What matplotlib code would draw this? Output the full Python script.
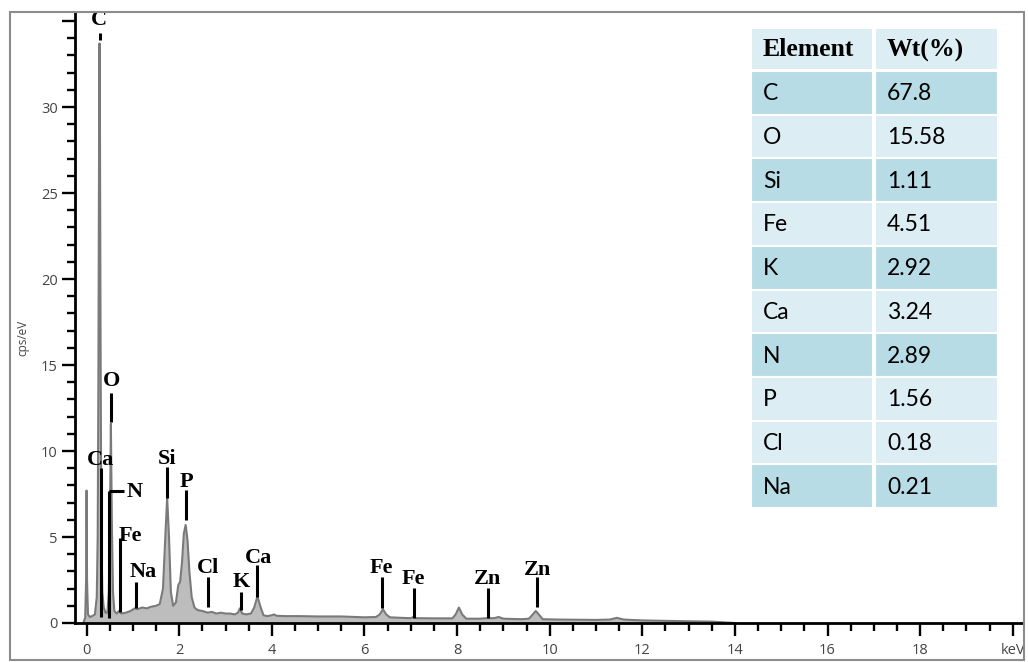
import matplotlib
matplotlib.use("Agg")
import matplotlib.pyplot as plt
from matplotlib.patches import Rectangle
from matplotlib.ticker import FixedLocator, MultipleLocator

# ---------------- EDS spectrum (energy in keV, intensity in cps/eV) ----------------
energy_kev = [
    -0.07, -0.03, -0.01, 0.0, 0.01, 0.03, 0.07, 0.12, 0.18, 0.22, 0.24, 0.255,
    0.27, 0.28, 0.29, 0.305, 0.32, 0.34, 0.37, 0.41, 0.45, 0.48, 0.505, 0.525,
    0.545, 0.57, 0.60, 0.65, 0.70, 0.75, 0.85, 0.95, 1.04, 1.10, 1.20, 1.30,
    1.40, 1.50, 1.58, 1.65, 1.70, 1.74, 1.78, 1.82, 1.87, 1.93, 1.98, 2.02,
    2.06, 2.10, 2.14, 2.18, 2.22, 2.27, 2.33, 2.40, 2.50, 2.62, 2.70, 2.80,
    2.90, 3.00, 3.10, 3.20, 3.27, 3.31, 3.36, 3.45, 3.55, 3.62, 3.69, 3.76,
    3.82, 3.90, 4.00, 4.05, 4.10, 4.30, 4.60, 5.00, 5.50, 6.00, 6.25, 6.33,
    6.40, 6.47, 6.55, 6.80, 7.00, 7.06, 7.12, 7.50, 7.90, 7.97, 8.04, 8.11,
    8.20, 8.50, 8.63, 8.80, 8.90, 9.00, 9.40, 9.55, 9.62, 9.70, 9.78, 9.85,
    10.20, 11.00, 11.30, 11.45, 11.60, 12.00, 13.00, 13.50, 14.00,
]
intensity_cps = [
    0.0, 0.3, 2.5, 7.7, 2.5, 0.5, 0.35, 0.4, 0.5, 1.5, 5.0, 14.0,
    28.0, 33.7, 28.0, 14.0, 5.0, 1.8, 0.9, 0.6, 0.6, 1.8, 6.0, 11.6,
    6.0, 1.8, 0.7, 0.55, 0.7, 0.55, 0.6, 0.7, 0.85, 0.8, 0.9, 0.85,
    0.95, 1.0, 1.1, 2.0, 5.0, 7.3, 5.0, 1.8, 1.0, 1.2, 2.2, 2.4,
    3.5, 5.2, 5.7, 4.8, 3.0, 1.5, 0.9, 0.75, 0.7, 0.6, 0.65, 0.55,
    0.6, 0.55, 0.55, 0.5, 0.6, 0.85, 0.55, 0.5, 0.55, 0.9, 1.55, 0.9,
    0.45, 0.4, 0.45, 0.5, 0.42, 0.4, 0.4, 0.38, 0.38, 0.33, 0.35, 0.5,
    0.8, 0.5, 0.33, 0.3, 0.28, 0.35, 0.28, 0.27, 0.27, 0.5, 0.9, 0.5,
    0.25, 0.25, 0.28, 0.28, 0.35, 0.25, 0.22, 0.25, 0.45, 0.7, 0.45, 0.22,
    0.2, 0.18, 0.2, 0.3, 0.2, 0.15, 0.1, 0.08, 0.0,
]

# ---------------- peak identification ----------------
peak_labels = ["C", "O", "Ca", "N", "Fe", "Na", "Si", "P", "Cl", "K", "Ca",
               "Fe", "Fe", "Zn", "Zn"]
peak_energy = [0.28, 0.53, 0.32, 0.475, 0.72, 1.07, 1.74, 2.14, 2.63, 3.34,
               3.69, 6.39, 7.06, 8.66, 9.72]

# marker line extent (bottom, top) and label anchor (x, y), in data units
marker_span = [(33.9, 34.3), (11.7, 13.4), (0.35, 9.0), (0.3, 7.7),
               (0.64, 4.94), (0.87, 2.38), (7.27, 9.07), (6.0, 7.73),
               (0.93, 2.67), (0.75, 1.8), (1.5, 3.37), (0.87, 2.67),
               (0.29, 2.03), (0.29, 2.03), (0.93, 2.67)]
label_anchor = [(0.27, 35.05), (0.53, 14.05), (0.29, 9.5), (1.04, 7.62),
                (0.95, 5.06), (1.22, 2.95), (1.73, 9.53), (2.15, 8.2),
                (2.63, 3.2), (3.34, 2.38), (3.71, 3.8), (6.37, 3.2),
                (7.06, 2.56), (8.66, 2.56), (9.74, 3.08)]

# ---------------- composition table ----------------
table_elements = ["C", "O", "Si", "Fe", "K", "Ca", "N", "P", "Cl", "Na"]
table_wt = ["67.8", "15.58", "1.11", "4.51", "2.92", "3.24", "2.89", "1.56",
            "0.18", "0.21"]
table_header = ["Element", "Wt(%)"]

# ---------------- figure ----------------
W, H = 1028, 662
fig = plt.figure(figsize=(W / 100, H / 100), dpi=100)
fig.patch.set_facecolor("white")

ax = fig.add_axes([75 / W, (H - 623) / H, 947 / W, 610 / H])
ax.fill_between(energy_kev, intensity_cps, 0, color="#bdbdbd", lw=0, zorder=1)
ax.plot(energy_kev, intensity_cps, color="#7a7a7a", lw=1.5, zorder=2)

ax.set_xlim(-0.25, 20.2)
ax.set_ylim(0, 35.47)

for sp in ("top", "right"):
    ax.spines[sp].set_visible(False)
for sp in ("left", "bottom"):
    ax.spines[sp].set_linewidth(2.0)
    ax.spines[sp].set_color("black")

xmaj = list(range(0, 21, 2))
ax.xaxis.set_major_locator(FixedLocator(xmaj))
ax.set_xticklabels([str(v) for v in xmaj[:-1]] + ["keV"])
ax.xaxis.set_minor_locator(MultipleLocator(0.5))
ymaj = list(range(0, 36, 5))
ax.yaxis.set_major_locator(FixedLocator(ymaj))
ax.set_yticklabels([str(v) for v in ymaj[:-1]] + [""])
ax.yaxis.set_minor_locator(MultipleLocator(1))

ax.tick_params(axis="both", which="major", length=9.5, width=1.7, color="black",
               labelsize=10.5, labelcolor="#444444")
ax.tick_params(axis="both", which="minor", length=5.5, width=1.7, color="black")
ax.tick_params(axis="x", which="major", pad=5)
ax.tick_params(axis="y", which="major", pad=3)
for lab in ax.get_xticklabels() + ax.get_yticklabels():
    lab.set_family("Open Sans")

fig.text(23 / W, 1 - 338 / H, "cps/eV", rotation=90, fontsize=8.5,
         color="#444444", family="Open Sans", ha="center", va="center")

# peak markers
label_font = dict(family="Liberation Serif", fontweight="bold", fontsize=16,
                  color="black")
for name, e, (y0, y1), (tx, ty) in zip(peak_labels, peak_energy, marker_span,
                                       label_anchor):
    ax.plot([e, e], [y0, y1], color="black", lw=2.2, solid_capstyle="butt",
            zorder=4, clip_on=False)
    ax.text(tx, ty, name, ha="center", va="center", zorder=5, clip_on=False,
            **label_font)
# N marker elbow leading to its label
n_idx = peak_labels.index("N")
ax.plot([peak_energy[n_idx], 0.8], [marker_span[n_idx][1]] * 2, color="black",
        lw=2.2, solid_capstyle="butt", zorder=4)

# overlay in pixel space for the frame and the table
ov = fig.add_axes([0, 0, 1, 1], zorder=10)
ov.set_xlim(0, W)
ov.set_ylim(H, 0)
ov.axis("off")
ov.patch.set_alpha(0)

ov.add_patch(Rectangle((10, 12), 1014, 648, fill=False, ec="#8c8c8c", lw=1.5))

light = "#dcedf3"
dark = "#b7dce6"
row_shade = [dark, light, dark, light, dark, light, dark, light, light, dark]
col_x = [751, 875]
col_w = [122, 123]
header_top, header_h = 28, 42
row_top0, row_h = 71, 43.7

for c in range(2):
    ov.add_patch(Rectangle((col_x[c], header_top), col_w[c], header_h,
                           fc=light, ec="white", lw=1.5))
    ov.text(col_x[c] + 12, header_top + header_h / 2 + 1, table_header[c],
            family="Liberation Serif", fontweight="bold", fontsize=18.5,
            ha="left", va="center", color="black")

for r, (el, wt) in enumerate(zip(table_elements, table_wt)):
    top = row_top0 + r * row_h
    for c, txt in enumerate((el, wt)):
        ov.add_patch(Rectangle((col_x[c], top), col_w[c], row_h,
                               fc=row_shade[r], ec="white", lw=1.5))
        ov.text(col_x[c] + 12, top + row_h / 2 + 1, txt, family="Lato",
                fontsize=16.5, ha="left", va="center", color="black")

fig.savefig("out.png", dpi=100, facecolor="white")
